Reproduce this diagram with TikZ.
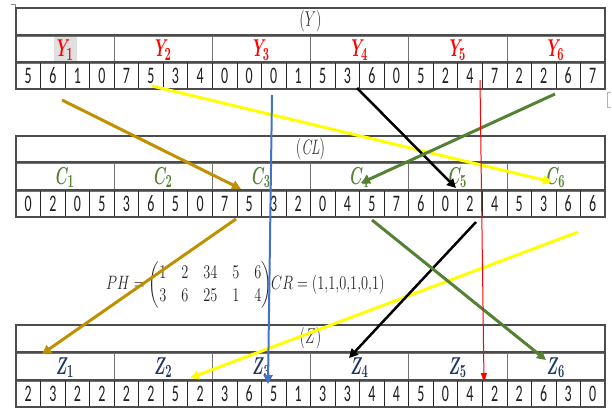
\documentclass[tikz,border=0pt]{standalone}
\usepackage{amsmath,bm}
\usepackage{fontspec}
\usetikzlibrary{arrows.meta}
\newfontfamily\calib{Carlito}
\definecolor{goldc}{HTML}{BF9000}
\definecolor{yelc}{HTML}{FFFF00}
\definecolor{bluec}{HTML}{4472C4}
\definecolor{greenc}{HTML}{548235}
\definecolor{redc}{HTML}{FF0000}
\definecolor{zblue}{HTML}{1F3864}
\definecolor{cgreen}{HTML}{538135}
\newcommand\vs[1]{\scalebox{1}[1.7]{#1}}
\newcommand\vsm[1]{\scalebox{1}[1.5]{#1}}
\newcommand\vsf[1]{\scalebox{1}[1.35]{#1}}
\tikzset{
  cellbox/.style={draw=black!85, line width=0.6pt, minimum width=24.5417bp, inner sep=0pt, outer sep=0pt,
    font=\calib\fontsize{14}{14}\selectfont, text=black!88},
  groupbox/.style={draw=black!55, line width=0.6pt, minimum width=98.1667bp, inner sep=0pt, outer sep=0pt,
    font=\fontsize{15}{15}\selectfont},
  headbox/.style={draw=black!70, line width=0.8pt, minimum width=589bp, inner sep=0pt, outer sep=0pt,
    font=\fontsize{14}{14}\selectfont, text=black!80},
  frame/.style={draw=black!70, line width=1.1pt},
  arr/.style={line width=#1, -{Triangle[length=9bp,width=9bp]}},
  thinarr/.style={line width=1pt, -{Triangle[length=9bp,width=6bp]}},
  formula/.style={font=\fontsize{14}{17}\selectfont, text=black!85, inner sep=0pt, anchor=west},
}
\begin{document}
\begin{tikzpicture}[x=1bp,y=-1bp]
\useasboundingbox (0,0) rectangle (612,408);
\fill[white] (0,0) rectangle (612,408);
\fill[black!12] (54,36) rectangle (77,61);
% tables
\foreach \nm/\ya/\yb/\yc/\yd/\lab/\col/\hd/\digs in {
  Y/8/35/62/89/Y/redc/{$(Y)$}/{5,6,1,0,7,5,3,4,0,0,0,1,5,3,6,0,5,2,4,7,2,2,6,7},
  C/136/162/190/217/C/cgreen/{$(\mathit{CL})$}/{0,2,0,5,3,6,5,0,7,5,3,2,0,4,5,7,6,0,2,4,5,3,6,6},
  Z/325/352/380/407/Z/zblue/{$(Z)$}/{2,3,2,2,2,2,5,2,3,6,5,1,3,3,4,4,5,0,4,2,2,6,3,0}}{
  \node[headbox, minimum height=\yb-\ya] (\nm-head) at (310.5,{(\ya+\yb)/2}) {\vsm{\hd}};
  \foreach \g in {1,...,6}{
    \node[groupbox, minimum height=\yc-\yb, text=\col] (\nm-g\g) at ({16+98.1667*(\g-0.5)},{(\yb+\yc)/2+1.5}) {\vs{\boldmath$\lab_{\g}$}};
  }
  \foreach \d [count=\i] in \digs{
    \node[cellbox, minimum height=\yd-\yc] (\nm-d\i) at ({16+24.5417*(\i-0.5)},{(\yc+\yd)/2}) {\vs{\d}};
  }
  \draw[frame] (16,\ya) rectangle (605,\yd);
  \draw[frame] (16,\yb) -- (605,\yb) (16,\yc) -- (605,\yc);
}
% small marks
\draw[black!45, line width=0.5pt] (11,4) -- (15,4) -- (15,7);
\draw[black!30, line width=0.6pt] (611,92) -- (607,92) -- (607,107) -- (611,107);
% formulas
\node[formula] (ph) at (106,285) {\vsf{\setlength{\arraycolsep}{7.5pt}$PH=\begin{pmatrix}1&2&34&5&6\\3&6&25&1&4\end{pmatrix}$}};
\node[formula] (cr) at (271,285) {\vsf{$CR=(1{,}1{,}0{,}1{,}0{,}1)$}};
% arrow end points
\coordinate (g1s) at (62,100);  \coordinate (g1e) at (241,189);
\coordinate (g2s) at (236,219); \coordinate (g2e) at (42,354);
\coordinate (y1s) at (152,86);  \coordinate (y1e) at (552,182);
\coordinate (y2s) at (578,232); \coordinate (y2e) at (190,378);
\coordinate (b1s) at (272,95);  \coordinate (b1e) at (268,384);
\coordinate (k1s) at (357,88);  \coordinate (k1e) at (456,188);
\coordinate (k2s) at (476,222); \coordinate (k2e) at (349,358);
\coordinate (r1s) at (480,80);  \coordinate (r1e) at (484,382);
\coordinate (n1s) at (555,94);  \coordinate (n1e) at (361,183);
\coordinate (n2s) at (372,220); \coordinate (n2e) at (546,360);
% arrows
\draw[arr=3pt, yelc] (y1s) -- (y1e);
\draw[arr=3pt, yelc] (y2s) -- (y2e);
\draw[arr=3pt, goldc] (g1s) -- (g1e);
\draw[arr=3pt, goldc] (g2s) -- (g2e);
\draw[arr=2pt, bluec] (b1s) -- (b1e);
\draw[arr=2.5pt, black] (k1s) -- (k1e);
\draw[arr=2.5pt, black] (k2s) -- (k2e);
\draw[arr=3pt, greenc] (n1s) -- (n1e);
\draw[arr=3pt, greenc] (n2s) -- (n2e);
\draw[thinarr, redc] (r1s) -- (r1e);
\end{tikzpicture}
\end{document}
